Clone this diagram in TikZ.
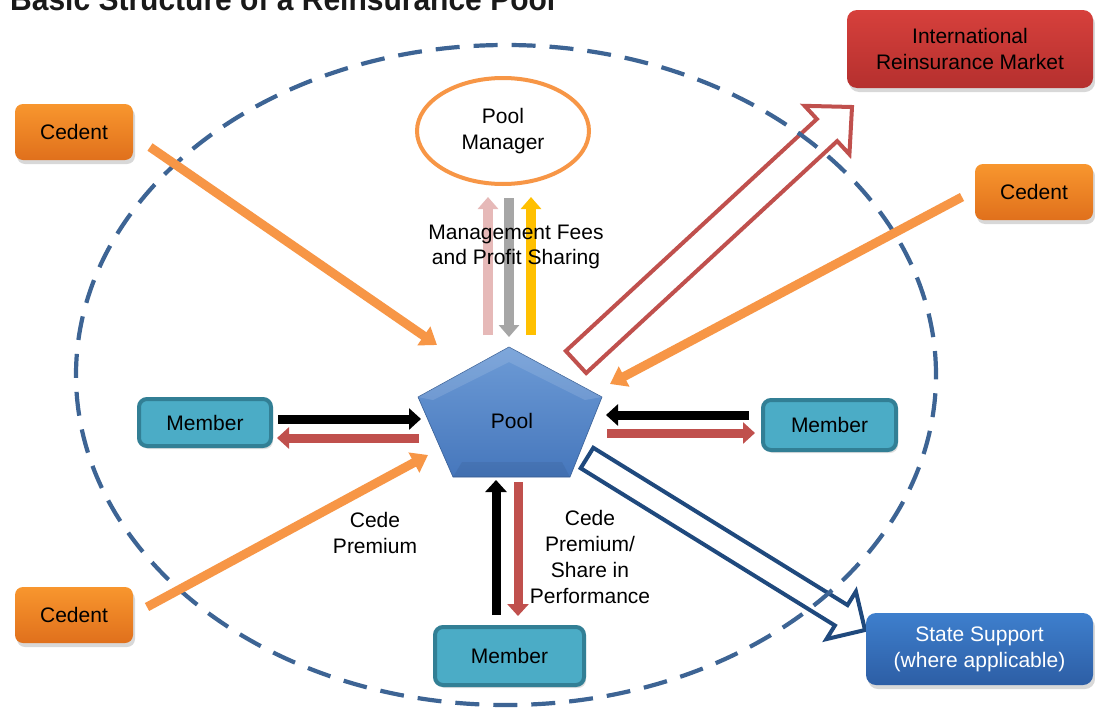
\documentclass[tikz,border=0pt]{standalone}
\usepackage{fontspec}
\usepackage{graphicx}
\setmainfont{Liberation Sans}
\usetikzlibrary{arrows.meta,calc,shadows,shapes.geometric}
\definecolor{dashblue}{HTML}{3D6494}
\definecolor{orng}{HTML}{F79646}
\definecolor{orngtop}{HTML}{F8962E}
\definecolor{orngbot}{HTML}{E0701C}
\definecolor{memfill}{HTML}{4BACC6}
\definecolor{memdraw}{HTML}{327F95}
\definecolor{redc}{HTML}{C0504D}
\definecolor{redtop}{HTML}{D6403C}
\definecolor{redbot}{HTML}{B5302E}
\definecolor{navy}{HTML}{1F497D}
\definecolor{sttop}{HTML}{3E7FCD}
\definecolor{stbot}{HTML}{2D5EA5}
\definecolor{pooltop}{HTML}{6D9BD6}
\definecolor{poolbot}{HTML}{4677BC}
\definecolor{pinkc}{HTML}{E6B9B8}
\definecolor{grayc}{HTML}{A6A6A6}
\definecolor{yelc}{HTML}{FFC000}
\newcommand\hollowarrow[6]{%
  \path coordinate (hn) at ($(#3)!#6!(#2)$);
  \draw[#1] ($(#2)!#4!90:(#3)$) -- ($(hn)!#4!90:(#3)$) -- ($(hn)!#5!90:(#3)$)
    -- (#3) -- ($(hn)!#5!-90:(#3)$) -- ($(hn)!#4!-90:(#3)$) -- ($(#2)!#4!-90:(#3)$) -- cycle;
}
\begin{document}
\begin{tikzpicture}[x=1pt,y=-1pt,
  txt/.style={font=\fontsize{21}{25.8}\selectfont, align=center, inner sep=0pt},
  memberbox/.style={txt, draw=memdraw, fill=memfill, line width=4pt, rounded corners=8pt,
    drop shadow={opacity=0.25, shadow xshift=2pt, shadow yshift=-3pt}},
  cedentbox/.style={txt, top color=orngtop, bottom color=orngbot, rounded corners=8pt,
    minimum width=118pt, minimum height=56pt,
    drop shadow={opacity=0.3, shadow xshift=2pt, shadow yshift=-4pt}},
  memarrow/.style={line width=9pt, -{Triangle[length=12pt,width=21pt]}},
  orarrow/.style={orng, line width=9pt, -{Triangle[length=16pt,width=22pt]}},
  vertarrow/.style={line width=10pt, -{Triangle[length=12pt,width=20pt]}},
  hollow/.style={line width=4pt, line join=miter}
]
\clip (0,0) rectangle (1095,715);
\fill[white] (0,0) rectangle (1095,715);

% title (cut off at top, as in the reference)
\node[anchor=base west, inner sep=0pt, text=black!90] (title) at (10,10.5)
  {\resizebox{545pt}{23pt}{\bfseries Basic Structure of a Reinsurance Pool}};

% hollow arrows
\coordinate (rt) at (576,362); \coordinate (rp) at (852,107);
\hollowarrow{hollow, draw=redc}{rt}{rp}{15pt}{33pt}{34pt}
\coordinate (bt) at (587,458); \coordinate (bp) at (865,630);
\hollowarrow{hollow, draw=navy}{bt}{bp}{12pt}{28pt}{28pt}

% dashed ellipse
\draw[dashblue, line width=4.2pt, dash pattern=on 24pt off 14pt] (506,375) ellipse [x radius=430pt, y radius=330pt];

% pool manager
\node[txt, ellipse, draw=orng, line width=4pt, fill=white, minimum width=172pt, minimum height=106pt] (mgr) at (503,131) {Pool\\Manager};

% pool pentagon
\shade[top color=pooltop, bottom color=poolbot, draw=poolbot!80!black, line width=0.6pt]
  (509,347) -- (602,397) -- (570,477) -- (453,477) -- (418,397) -- cycle;
\fill[white, opacity=0.12] (509,347) -- (602,397) -- (585,400) -- (509,362) -- (433,400) -- (418,397) -- cycle;
\fill[black, opacity=0.06] (453,477) -- (570,477) -- (562,462) -- (462,462) -- cycle;
\node[txt] (pool) at (512,421) {Pool};

% boxes
\node[cedentbox] (ced1) at (74,132) {Cedent};
\node[cedentbox] (ced2) at (1034,192) {Cedent};
\node[cedentbox] (ced3) at (74,615) {Cedent};
\node[memberbox, minimum width=132pt, minimum height=47pt] (mem1) at (205,422.5) {Member};
\node[memberbox, minimum width=133pt, minimum height=50pt] (mem2) at (829.5,425) {Member};
\node[memberbox, minimum width=149pt, minimum height=58pt] (mem3) at (509.5,656) {Member};
\node[txt, top color=redtop, bottom color=redbot, rounded corners=10pt, minimum width=246pt, minimum height=78pt,
  drop shadow={opacity=0.3, shadow xshift=2pt, shadow yshift=-4pt}] (irm) at (970,49) {International\\Reinsurance Market};
\node[txt, text=white, top color=sttop, bottom color=stbot, rounded corners=10pt, minimum width=227pt, minimum height=72pt,
  drop shadow={opacity=0.3, shadow xshift=2pt, shadow yshift=-4pt}] (state) at (979.5,649) {State Support\\(where applicable)};

% orange cedent arrows
\coordinate (o1s) at (150,147); \coordinate (o1e) at (437,345);
\coordinate (o2s) at (962,197); \coordinate (o2e) at (610,384);
\coordinate (o3s) at (147,607); \coordinate (o3e) at (428,455);
\draw[orarrow] (o1s) -- (o1e);
\draw[orarrow] (o2s) -- (o2e);
\draw[orarrow] (o3s) -- (o3e);

% member arrows
\coordinate (l1a) at (278,419); \coordinate (l1b) at (421,419);
\coordinate (l2a) at (419,438); \coordinate (l2b) at (277,438);
\draw[memarrow, black] (l1a) -- (l1b);
\draw[memarrow, redc] (l2a) -- (l2b);
\coordinate (r1a) at (749,415); \coordinate (r1b) at (606,415);
\coordinate (r2a) at (607,433); \coordinate (r2b) at (755,433);
\draw[memarrow, black] (r1a) -- (r1b);
\draw[memarrow, redc] (r2a) -- (r2b);
\coordinate (b1a) at (496,615); \coordinate (b1b) at (496,480);
\coordinate (b2a) at (518,482); \coordinate (b2b) at (518,616);
\draw[memarrow, black] (b1a) -- (b1b);
\draw[memarrow, redc] (b2a) -- (b2b);

% management arrows
\coordinate (p1) at (488,335); \coordinate (p2) at (488,197);
\coordinate (g1) at (509,198); \coordinate (g2) at (509,337);
\coordinate (y1) at (531,335); \coordinate (y2) at (531,197);
\draw[vertarrow, pinkc] (p1) -- (p2);
\draw[vertarrow, grayc] (g1) -- (g2);
\draw[vertarrow, yelc] (y1) -- (y2);

% labels
\node[txt] (mgmt) at (516,247) {Management Fees\\and Profit Sharing};
\node[txt] (cp1) at (375,533) {Cede\\Premium};
\node[txt] (cp2) at (590,557) {Cede\\Premium/\\Share in\\Performance};
\end{tikzpicture}
\end{document}
